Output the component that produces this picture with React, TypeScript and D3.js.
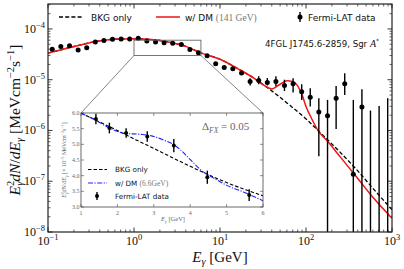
import React from "react";
import * as d3 from "d3";

// Fermi-LAT bins (GeV) and E^2 dN/dE (MeV cm^-2 s^-1)
const binE = [0.112, 0.141, 0.178, 0.224, 0.282, 0.355, 0.447, 0.562, 0.708, 0.891,
  1.12, 1.41, 1.78, 2.24, 2.82, 3.55, 4.47, 5.62, 7.08, 8.91,
  11.2, 14.1, 17.8, 22.4, 28.2, 35.5, 44.7, 56.2, 70.8, 89.1,
  112, 141, 178, 224, 282, 355, 447, 562, 708, 891];
const fermiF = [3.98e-5, 4.49e-5, 4.69e-5, 3.86e-5, 4.28e-5, 5.55e-5, 5.89e-5, 6.27e-5, 6.35e-5, 6.35e-5,
  6.56e-5, 5.81e-5, 5.52e-5, 5.36e-5, 5.25e-5, 4.96e-5, 3.95e-5, 3.38e-5, 2.98e-5, 2.07e-5,
  1.73e-5, 1.65e-5, 1.36e-5, 9.2e-6, 9.6e-6, 8.8e-6, 9.2e-6, 7.7e-6, 8.3e-6, 5.8e-6,
  4.5e-6, 2.3e-6, 1.95e-6, 4.3e-6, 8.3e-6, 1.38e-7, 2.9e-6, null, null, null];
const fermiLo = [null, null, null, null, null, null, null, null, null, null,
  null, null, null, null, null, null, null, null, null, null,
  null, null, 1.25e-5, 7.7e-6, 8.1e-6, 7.7e-6, 7.45e-6, 6.0e-6, 5.6e-6, 4.0e-6,
  2.95e-6, 3.1e-7, 1e-9, 1.07e-6, 5.0e-6, 1e-9, 1e-9, 1e-9, 1e-9, 1e-9];
const fermiHi = [null, null, null, null, null, null, null, null, null, null,
  null, null, null, null, null, null, null, null, null, null,
  null, null, 1.47e-5, 1.07e-5, 1.17e-5, 1.08e-5, 1.17e-5, 1.0e-5, 1.07e-5, 8.15e-6,
  6.8e-6, 4.3e-6, 4.0e-6, 7.55e-6, 1.34e-5, 4.0e-6, 6.5e-6, 2.47e-6, 3.05e-6, 4.33e-6];

// background-only model
const bkgE = [0.1, 0.2, 0.35, 0.6, 1, 1.6, 2.5, 4, 6, 10, 16, 25, 40, 60, 100, 160, 250, 400, 600, 1000];
const bkgF = [3.33e-5, 4.51e-5, 5.6e-5, 6.3e-5, 6.41e-5, 6.18e-5, 5.55e-5, 4.53e-5, 3.37e-5, 2.53e-5,
  1.66e-5, 1.06e-5, 6.03e-6, 3.49e-6, 1.69e-6, 7.83e-7, 3.71e-7, 1.6e-7, 7.25e-8, 2.74e-8];

// background + 141 GeV DM
const dmE = [0.1, 0.2, 0.35, 0.6, 1, 1.6, 2.5, 4, 6, 10, 16, 25, 30, 40, 50, 60, 70, 80, 90, 100,
  120, 140, 170, 250, 400, 600, 1000];
const dmF = [3.33e-5, 4.51e-5, 5.6e-5, 6.3e-5, 6.41e-5, 6.18e-5, 5.55e-5, 4.53e-5, 3.37e-5, 2.53e-5,
  1.66e-5, 1.06e-5, 8.45e-6, 6.59e-6, 8.15e-6, 9.55e-6, 9.26e-6, 7.55e-6, 5.02e-6, 2.98e-6,
  1.54e-6, 9.6e-7, 6.68e-7, 3.02e-7, 1.13e-7, 4.82e-8, 1.86e-8];

// inset (x 10^-5)
const inE = [1.41, 1.78, 2.24, 2.82, 3.55, 4.47, 5.62];
const inF = [5.81, 5.52, 5.36, 5.25, 4.96, 3.95, 3.38];
const inErr = [0.17, 0.17, 0.15, 0.17, 0.21, 0.21, 0.19];
const inBkgE = [1, 1.5, 2, 2.5, 3, 3.5, 4, 4.5, 5, 5.5, 6];
const inBkgF = [6.0, 5.72, 5.44, 5.15, 4.87, 4.58, 4.3, 4.03, 3.78, 3.56, 3.36];
const inDmE = [1.0, 1.385, 1.797, 2.209, 2.621, 2.942, 3.261, 3.536, 3.72, 3.995, 4.36, 4.635, 5.003, 5.459, 6.0];
const inDmF = [5.99, 5.78, 5.51, 5.35, 5.32, 5.27, 5.14, 5.0, 4.84, 4.52, 4.12, 3.93, 3.69, 3.48, 3.2];

const xMajor = [0.1, 1, 10, 100, 1000];
const xMajorExp = ["−1", "0", "1", "2", "3"];
const yMajor = [1e-8, 1e-7, 1e-6, 1e-5, 1e-4];
const yMajorExp = ["−8", "−7", "−6", "−5", "−4"];
const inXTicks = [1, 2, 3, 4, 5, 6];
const inYTicks = [3.0, 3.5, 4.0, 4.5, 5.0, 5.5, 6.0];

const SERIF = "'Liberation Serif', 'DejaVu Serif', serif";
const SANS = "'DejaVu Sans', sans-serif";
const RED = "#f01414";
const BLUE = "#2020ff";

export default function App() {
  const L = 48, R = 392, T = 4, B = 232;
  const x = d3.scaleLog().domain([0.1, 1000]).range([L, R]);
  const y = d3.scaleLog().domain([1e-8, 3.1e-4]).range([B, T]);

  const mainLine = d3.line<number>().curve(d3.curveMonotoneX);
  const bkgPath = mainLine(bkgE.map((e, i) => [x(e), y(bkgF[i])]) as any);
  const dmPath = mainLine(dmE.map((e, i) => [x(e), y(dmF[i])]) as any);

  const xMinor = x.ticks().filter(t => !xMajor.some(m => Math.abs(m - t) / m < 1e-6));
  const yMinor = y.ticks().filter(t => !yMajor.some(m => Math.abs(m - t) / m < 1e-6));

  // inset
  const iL = 81, iR = 263, iT = 113, iB = 207;
  const ix = d3.scaleLinear().domain([1, 6]).range([iL, iR]);
  const iy = d3.scaleLinear().domain([3, 6]).range([iB, iT]);
  const inBkgPath = mainLine(inBkgE.map((e, i) => [ix(e), iy(inBkgF[i])]) as any);
  const inDmPath = mainLine(inDmE.map((e, i) => [ix(e), iy(inDmF[i])]) as any);

  const boxL = x(1), boxR = x(6), boxT = y(6e-5), boxB = y(3e-5);
  const axisCol = "#222";
  const grey = "#666";

  return (
    <svg width={404} height={269} style={{ position: "absolute", left: 0, top: 0, background: "#fff" }}>
      <defs>
        <clipPath id="mainClip"><rect x={L} y={T} width={R - L} height={B - T} /></clipPath>
        <clipPath id="insetClip"><rect x={iL} y={iT} width={iR - iL} height={iB - iT} /></clipPath>
      </defs>

      {/* main ticks */}
      {xMajor.map(t => (
        <g key={"xM" + t}>
          <line x1={x(t)} x2={x(t)} y1={B} y2={B - 4.5} stroke={axisCol} strokeWidth={0.9} />
          <line x1={x(t)} x2={x(t)} y1={T} y2={T + 4.5} stroke={axisCol} strokeWidth={0.9} />
        </g>
      ))}
      {xMinor.map(t => (
        <g key={"xm" + t}>
          <line x1={x(t)} x2={x(t)} y1={B} y2={B - 2.5} stroke={axisCol} strokeWidth={0.7} />
          <line x1={x(t)} x2={x(t)} y1={T} y2={T + 2.5} stroke={axisCol} strokeWidth={0.7} />
        </g>
      ))}
      {yMajor.map(t => (
        <g key={"yM" + t}>
          <line x1={L} x2={L + 4.5} y1={y(t)} y2={y(t)} stroke={axisCol} strokeWidth={0.9} />
          <line x1={R} x2={R - 4.5} y1={y(t)} y2={y(t)} stroke={axisCol} strokeWidth={0.9} />
        </g>
      ))}
      {yMinor.map(t => (
        <g key={"ym" + t}>
          <line x1={L} x2={L + 2.5} y1={y(t)} y2={y(t)} stroke={axisCol} strokeWidth={0.7} />
          <line x1={R} x2={R - 2.5} y1={y(t)} y2={y(t)} stroke={axisCol} strokeWidth={0.7} />
        </g>
      ))}

      {/* tick labels */}
      {xMajor.map((t, i) => (
        <text key={"xl" + t} x={x(t)} y={244.5} textAnchor="middle" fontFamily={SERIF} fontSize={12} fill="#111">
          10<tspan dy={-5} fontSize={8.5}>{xMajorExp[i]}</tspan>
        </text>
      ))}
      {yMajor.map((t, i) => (
        <text key={"yl" + t} x={45} y={y(t) + 4} textAnchor="end" fontFamily={SERIF} fontSize={12} fill="#111">
          10<tspan dy={-5} fontSize={8.5}>{yMajorExp[i]}</tspan>
        </text>
      ))}

      {/* axis labels */}
      <text x={220} y={262} textAnchor="middle" fontFamily={SERIF} fontSize={15} fill="#111">
        <tspan fontStyle="italic">E</tspan>
        <tspan fontSize={10.5} fontStyle="italic" dy={3}>γ</tspan>
        <tspan dy={-3}> [GeV]</tspan>
      </text>
      <text transform="translate(20,120) rotate(-90)" textAnchor="middle" fontFamily={SERIF} fontSize={15.5} fill="#111">
        <tspan fontStyle="italic">E</tspan>
        <tspan fontSize={10.5} dy={-6}>2</tspan>
        <tspan fontSize={10.5} fontStyle="italic" dx={-5} dy={9}>γ</tspan>
        <tspan fontStyle="italic" dy={-3}>dN</tspan>
        <tspan>/</tspan>
        <tspan fontStyle="italic">dE</tspan>
        <tspan fontSize={10.5} fontStyle="italic" dy={3}>γ</tspan>
        <tspan dy={-3}> [MeVcm</tspan>
        <tspan fontSize={10.5} dy={-6}>−2</tspan>
        <tspan dy={6}>s</tspan>
        <tspan fontSize={10.5} dy={-6}>−1</tspan>
        <tspan dy={6}>]</tspan>
      </text>

      {/* curves and data */}
      <g clipPath="url(#mainClip)">
        <path d={bkgPath || ""} fill="none" stroke="#000" strokeWidth={1.3} strokeDasharray="4,2.2" />
        <path d={dmPath || ""} fill="none" stroke={RED} strokeWidth={1.5} />
        {binE.map((e, i) => (
          fermiLo[i] != null && fermiHi[i] != null ? (
            <line key={"eb" + i} x1={x(e)} x2={x(e)} y1={y(fermiLo[i] as number)} y2={y(fermiHi[i] as number)}
              stroke="#000" strokeWidth={1.4} />
          ) : null
        ))}
        {binE.map((e, i) => (
          fermiF[i] != null ? <circle key={"pt" + i} cx={x(e)} cy={y(fermiF[i] as number)} r={2.5} fill="#000" /> : null
        ))}
      </g>

      {/* main frame */}
      <rect x={L} y={T} width={R - L} height={B - T} fill="none" stroke={axisCol} strokeWidth={1.2} />

      {/* legend */}
      <line x1={59} x2={82} y1={17} y2={17} stroke="#000" strokeWidth={1.3} strokeDasharray="4,2.2" />
      <text x={91} y={20.5} fontFamily={SANS} fontSize={9} fill="#111">BKG only</text>
      <line x1={156} x2={180} y1={17} y2={17} stroke={RED} strokeWidth={1.5} />
      <text x={185} y={20.5} fontFamily={SANS} fontSize={9} fill="#111">
        w/ DM <tspan fontFamily={SERIF} fill="#777" fontSize={9.5}>(141 GeV)</tspan>
      </text>
      <line x1={300} x2={300} y1={12} y2={22} stroke="#000" strokeWidth={1.4} />
      <circle cx={300} cy={17} r={2.5} fill="#000" />
      <text x={308} y={20.5} fontFamily={SANS} fontSize={9} fill="#111">Fermi-LAT data</text>
      <text x={379} y={47} textAnchor="end" fontFamily={SANS} fontSize={8.6} fill="#111">
        4FGL J1745.6-2859, Sgr <tspan fontFamily={SERIF} fontStyle="italic" fontSize={10}>A</tspan>
        <tspan fontSize={6} dy={-4}>*</tspan>
      </text>

      {/* zoom box and connectors */}
      <rect x={boxL} y={boxT} width={boxR - boxL} height={boxB - boxT} fill="none" stroke={grey} strokeWidth={0.9} />
      <line x1={boxL} y1={boxB} x2={iL} y2={iT} stroke={grey} strokeWidth={0.8} />
      <line x1={boxR} y1={boxB} x2={iR} y2={iT} stroke={grey} strokeWidth={0.8} />

      {/* inset */}
      <rect x={iL} y={iT} width={iR - iL} height={iB - iT} fill="#fff" />
      {inXTicks.map(t => (
        <g key={"ixt" + t}>
          <line x1={ix(t)} x2={ix(t)} y1={iB} y2={iB - 3} stroke="#444" strokeWidth={0.6} />
          <line x1={ix(t)} x2={ix(t)} y1={iT} y2={iT + 3} stroke="#444" strokeWidth={0.6} />
          <text x={ix(t)} y={iB + 7.5} textAnchor="middle" fontFamily={SERIF} fontSize={6} fill="#666">{t}</text>
        </g>
      ))}
      {inYTicks.map(t => (
        <g key={"iyt" + t}>
          <line x1={iL} x2={iL + 3} y1={iy(t)} y2={iy(t)} stroke="#444" strokeWidth={0.6} />
          <line x1={iR} x2={iR - 3} y1={iy(t)} y2={iy(t)} stroke="#444" strokeWidth={0.6} />
          <text x={iL - 1.5} y={iy(t) + 2} textAnchor="end" fontFamily={SERIF} fontSize={6} fill="#666">{t.toFixed(1)}</text>
        </g>
      ))}
      <text x={173} y={221} textAnchor="middle" fontFamily={SERIF} fontSize={6.5} fill="#666">
        <tspan fontStyle="italic">E</tspan><tspan fontSize={4.5} fontStyle="italic" dy={1.5}>γ</tspan>
        <tspan dy={-1.5}> [GeV]</tspan>
      </text>
      <text transform="translate(66,160) rotate(-90)" textAnchor="middle" fontFamily={SERIF} fontSize={6} fill="#666">
        <tspan fontStyle="italic">E</tspan><tspan fontSize={4.2} dy={-2.5}>2</tspan>
        <tspan fontSize={4.2} fontStyle="italic" dx={-2} dy={4}>γ</tspan>
        <tspan fontStyle="italic" dy={-1.5}>dN/dE</tspan><tspan fontSize={4.2} fontStyle="italic" dy={1.5}>γ</tspan>
        <tspan dy={-1.5}> [× 10</tspan><tspan fontSize={4.2} dy={-2.5}>−5</tspan>
        <tspan dy={2.5}> MeVcm</tspan><tspan fontSize={4.2} dy={-2.5}>−2</tspan>
        <tspan dy={2.5}>s</tspan><tspan fontSize={4.2} dy={-2.5}>−1</tspan><tspan dy={2.5}>]</tspan>
      </text>
      <g clipPath="url(#insetClip)">
        <path d={inBkgPath || ""} fill="none" stroke="#000" strokeWidth={1.1} strokeDasharray="3.5,2" />
        <path d={inDmPath || ""} fill="none" stroke={BLUE} strokeWidth={1.1} strokeDasharray="5,1.5,1.2,1.5" />
      </g>
      {inE.map((e, i) => (
        <g key={"ip" + i}>
          <line x1={ix(e)} x2={ix(e)} y1={iy(inF[i] - inErr[i])} y2={iy(inF[i] + inErr[i])} stroke="#000" strokeWidth={1.4} />
          <circle cx={ix(e)} cy={iy(inF[i])} r={2} fill="#000" />
        </g>
      ))}
      <rect x={iL} y={iT} width={iR - iL} height={iB - iT} fill="none" stroke="#444" strokeWidth={0.8} />

      {/* inset legend */}
      <line x1={88} x2={107} y1={169.5} y2={169.5} stroke="#000" strokeWidth={1.1} strokeDasharray="3.5,2" />
      <text x={115} y={172} fontFamily={SANS} fontSize={7.2} fill="#111">BKG only</text>
      <line x1={88} x2={107} y1={183} y2={183} stroke={BLUE} strokeWidth={1.1} strokeDasharray="5,1.5,1.2,1.5" />
      <text x={115} y={185.5} fontFamily={SANS} fontSize={7.2} fill="#111">
        w/ DM <tspan fontFamily={SERIF} fill="#777" fontSize={7.5}>(6.6GeV)</tspan>
      </text>
      <line x1={97} x2={97} y1={192} y2={200} stroke="#000" strokeWidth={1.4} />
      <circle cx={97} cy={196} r={2} fill="#000" />
      <text x={115} y={199} fontFamily={SANS} fontSize={7.2} fill="#111">Fermi-LAT data</text>

      <text x={202} y={130} fontFamily={SERIF} fontSize={11} fill="#666">
        Δ<tspan fontSize={7.5} fontStyle="italic" dy={2.5}>FX</tspan>
        <tspan dy={-2.5}> = 0.05</tspan>
      </text>
    </svg>
  );
}
